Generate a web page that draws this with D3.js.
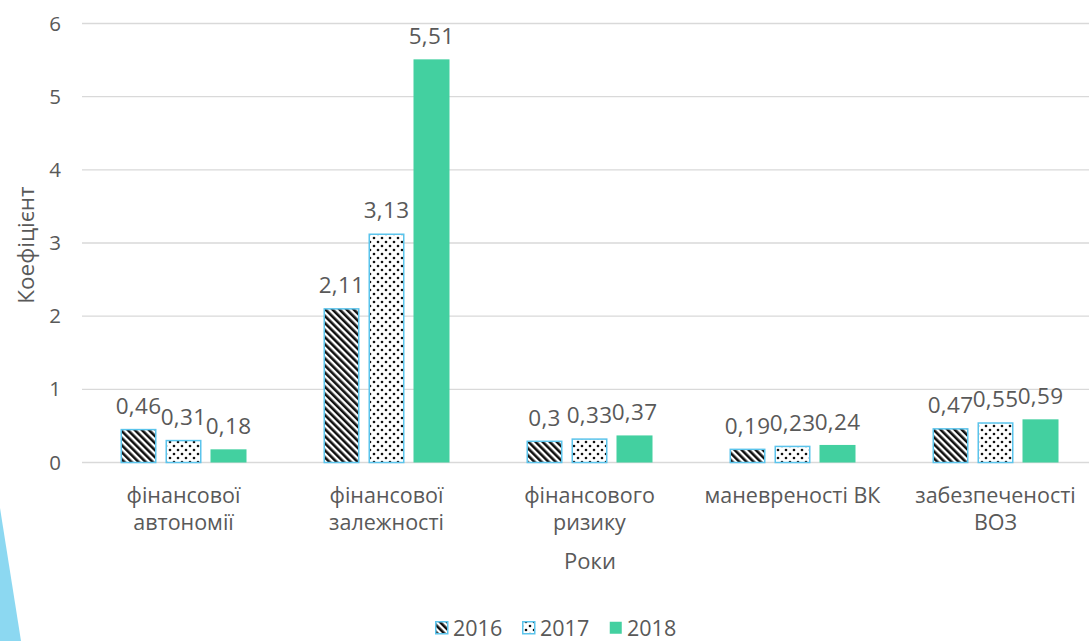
<!DOCTYPE html>
<html><head><meta charset="utf-8">
<script src="https://cdn.jsdelivr.net/npm/d3@7"></script>
<style>body{margin:0;background:#fff;} svg{display:block;font-family:"Open Sans",sans-serif;}</style>
</head><body>
<script>
const categories = [["фінансової","автономії"],["фінансової","залежності"],["фінансового","ризику"],["маневреності ВК"],["забезпеченості","ВОЗ"]];
const years = ["2016","2017","2018"];
const v2016 = [0.46, 2.11, 0.3, 0.19, 0.47];
const v2017 = [0.31, 3.13, 0.33, 0.23, 0.55];
const v2018 = [0.18, 5.51, 0.37, 0.24, 0.59];
const labels2016 = ["0,46","2,11","0,3","0,19","0,47"];
const labels2017 = ["0,31","3,13","0,33","0,23","0,55"];
const labels2018 = ["0,18","5,51","0,37","0,24","0,59"];
const yTicks = [0,1,2,3,4,5,6];
const yTitle = "Коефіцієнт";
const xTitle = "Роки";

const W = 1089, H = 641;
const svg = d3.select("body").append("svg").attr("width", W).attr("height", H);
const defs = svg.append("defs");
const outline = "#5BC4EC";
const textCol = "#595959";
const green = "#43D0A0";

// stripe pattern
const ps = defs.append("pattern").attr("id","stripes").attr("patternUnits","userSpaceOnUse")
  .attr("width",5).attr("height",5).attr("patternTransform","rotate(-45)");
ps.append("rect").attr("width",5).attr("height",5).attr("fill","#fff");
ps.append("rect").attr("width",2.6).attr("height",5).attr("fill","#111");
// dots pattern
const pd = defs.append("pattern").attr("id","dots").attr("patternUnits","userSpaceOnUse")
  .attr("width",8).attr("height",8);
pd.append("rect").attr("width",8).attr("height",8).attr("fill","#fff");
pd.append("circle").attr("cx",2).attr("cy",2).attr("r",1.3).attr("fill","#111");
pd.append("circle").attr("cx",6).attr("cy",6).attr("r",1.3).attr("fill","#111");

const fills = {"2016":"url(#stripes)","2017":"url(#dots)","2018":green};
const strokes = {"2016":outline,"2017":outline,"2018":"none"};

// decorative triangle
svg.append("polygon").attr("points","0,508 21,641 0,641").attr("fill","#8CD8F1");

const catKeys = categories.map(c => c.join(" "));
const x = d3.scaleBand().domain(catKeys).range([82, 82 + 5*203]);
const xi = d3.scaleBand().domain(years).range([34, 169]).paddingInner(0.2).paddingOuter(0.1);
const y = d3.scaleLinear().domain([0,6]).range([462.5, 23.5]);

// gridlines
svg.append("g").selectAll("line").data(yTicks).join("line")
  .attr("x1",82).attr("x2",W).attr("y1",d=>y(d)).attr("y2",d=>y(d))
  .attr("stroke","#D9D9D9").attr("stroke-width",1.3);

// y axis labels
const yAxis = svg.append("g").attr("transform","translate(64,0)")
  .call(d3.axisLeft(y).tickValues(yTicks).tickSize(0).tickPadding(0).tickFormat(d3.format("d")));
yAxis.select(".domain").remove();
yAxis.selectAll("text").attr("font-size",20.5).attr("fill",textCol).attr("font-family","Open Sans").attr("text-anchor","middle").attr("dx",-9);

const series = [
  {year:"2016", vals:v2016, labs:labels2016},
  {year:"2017", vals:v2017, labs:labels2017},
  {year:"2018", vals:v2018, labs:labels2018}
];

const gBars = svg.append("g");
series.forEach(s => {
  const g = gBars.append("g");
  g.selectAll("rect").data(s.vals).join("rect")
    .attr("x",(d,i)=>x(catKeys[i]) + xi(s.year) + (s.year==="2018"?0:0.75))
    .attr("width", xi.bandwidth() - (s.year==="2018"?0:1.5))
    .attr("y", d=>y(d) + (s.year==="2018"?0:0.75))
    .attr("height", d=>y(0) - y(d) - (s.year==="2018"?0:0.75))
    .attr("fill", fills[s.year])
    .attr("stroke", strokes[s.year]).attr("stroke-width",1.5);
  g.selectAll("text").data(s.vals).join("text")
    .attr("x",(d,i)=>x(catKeys[i]) + xi(s.year) + xi.bandwidth()/2)
    .attr("y", d=>y(d) - 15)
    .attr("text-anchor","middle").attr("font-size",22.5).attr("fill",textCol)
    .attr("letter-spacing",0.3)
    .text((d,i)=>s.labs[i]);
});

// category labels
const gc = svg.append("g");
categories.forEach((c,i) => {
  const t = gc.append("text").attr("x", x(catKeys[i]) + x.bandwidth()/2).attr("y",503)
    .attr("text-anchor","middle").attr("font-size",21.5).attr("fill",textCol);
  c.forEach((line,j) => t.append("tspan").attr("x", x(catKeys[i]) + x.bandwidth()/2).attr("dy", j===0?0:27).text(line));
});

// axis titles
svg.append("text").attr("x",590).attr("y",569).attr("text-anchor","middle")
  .attr("font-size",22).attr("fill",textCol).text(xTitle);
svg.append("text").attr("transform","translate(34,245) rotate(-90)").attr("text-anchor","middle")
  .attr("font-size",22.5).attr("fill",textCol).text(yTitle);

// legend
const legX = [435, 522, 609];
const lg = svg.append("g");
years.forEach((yr,i) => {
  lg.append("rect").attr("x",legX[i]+0.75).attr("y",621.75).attr("width",12).attr("height",12)
    .attr("fill",fills[yr]).attr("stroke",strokes[yr]).attr("stroke-width",1.5);
  lg.append("text").attr("x",legX[i]+18).attr("y",636).attr("font-size",21.5).attr("fill",textCol).text(yr);
});
</script>
</body></html>
